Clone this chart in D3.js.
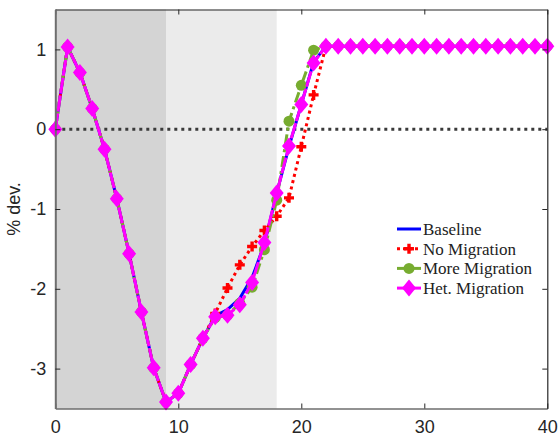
<!DOCTYPE html>
<html>
<head>
<meta charset="utf-8">
<script src="https://cdn.jsdelivr.net/npm/d3@7"></script>
<style>
  body { margin: 0; background: #fff; }
  svg text { font-family: "Liberation Sans", Arial, sans-serif; }
</style>
</head>
<body>
<div id="chart"></div>
<script>
// Data
const periods = [0, 1, 2, 3, 4, 5, 6, 7, 8, 9, 10, 11, 12, 13, 14, 15, 16, 17, 18, 19, 20,
  21, 22, 23, 24, 25, 26, 27, 28, 29, 30, 31, 32, 33, 34, 35, 36, 37, 38, 39, 40];

const baseline = [0, 1.03, 0.71, 0.26, -0.25, -0.87, -1.56, -2.29, -2.99, -3.42, -3.31, -2.95, -2.62,
  -2.34, -2.26, -2.12, -1.86, -1.44, -0.80, -0.22, 0.31, 0.84,
  1.04, 1.04, 1.04, 1.04, 1.04, 1.04, 1.04, 1.04, 1.04, 1.04, 1.04, 1.04, 1.04, 1.04, 1.04, 1.04, 1.04, 1.04, 1.04];
const noMigration = [0, 1.03, 0.71, 0.26, -0.25, -0.87, -1.56, -2.29, -2.99, -3.42, -3.31, -2.95, -2.62,
  -2.31, -1.99, -1.70, -1.47, -1.27, -1.09, -0.86, -0.22, 0.43,
  1.04, 1.04, 1.04, 1.04, 1.04, 1.04, 1.04, 1.04, 1.04, 1.04, 1.04, 1.04, 1.04, 1.04, 1.04, 1.04, 1.04, 1.04, 1.04];
const moreMigration = [0, 1.03, 0.71, 0.26, -0.25, -0.87, -1.56, -2.29, -2.99, -3.42, -3.31, -2.95, -2.62,
  -2.36, -2.33, -2.18, -1.98, -1.51, -0.89, 0.10, 0.55, 0.99,
  1.04, 1.04, 1.04, 1.04, 1.04, 1.04, 1.04, 1.04, 1.04, 1.04, 1.04, 1.04, 1.04, 1.04, 1.04, 1.04, 1.04, 1.04, 1.04];
const hetMigration = [0, 1.03, 0.71, 0.26, -0.25, -0.87, -1.56, -2.29, -2.99, -3.42, -3.31, -2.95, -2.62,
  -2.35, -2.33, -2.20, -1.92, -1.42, -0.80, -0.21, 0.31, 0.83,
  1.04, 1.04, 1.04, 1.04, 1.04, 1.04, 1.04, 1.04, 1.04, 1.04, 1.04, 1.04, 1.04, 1.04, 1.04, 1.04, 1.04, 1.04, 1.04];

const seriesNames = ["Baseline", "No Migration", "More Migration", "Het. Migration"];
// shaded phases [start, end]
const phases = [[0, 9], [9, 18]];
const xTicks = [0, 10, 20, 30, 40];
const yTicks = [-3, -2, -1, 0, 1];

// Dimensions
const width = 560, height = 443;
const margin = { top: 9.5, right: 12.7, bottom: 34.5, left: 55.3 };
const ctrWidth = width - margin.left - margin.right;
const ctrHeight = height - margin.top - margin.bottom;

const svg = d3.select("#chart").append("svg")
  .attr("width", width).attr("height", height);

const ctr = svg.append("g")
  .attr("transform", `translate(${margin.left},${margin.top})`);

// Scales
const xScale = d3.scaleLinear().domain([0, 40]).range([0, ctrWidth]);
const yScale = d3.scaleLinear().domain([-3.5, 1.5]).range([ctrHeight, 0]);

// Shaded regions
const phaseColors = ["#d4d4d4", "#ebebeb"];
ctr.selectAll("rect.phase").data(phases).join("rect")
  .attr("class", "phase")
  .attr("x", d => xScale(d[0]))
  .attr("y", 0)
  .attr("width", d => xScale(d[1]) - xScale(d[0]))
  .attr("height", ctrHeight)
  .attr("fill", (d, i) => phaseColors[i]);

// Zero line
ctr.append("line")
  .attr("x1", xScale(0)).attr("x2", xScale(40))
  .attr("y1", yScale(0)).attr("y2", yScale(0))
  .attr("stroke", "#3a3a3a")
  .attr("stroke-width", 3)
  .attr("stroke-dasharray", "3,4");

// Series styles
const styles = [
  { values: baseline, color: "#0000ff", dash: null, marker: "none" },
  { values: noMigration, color: "#ff0000", dash: "3,3.5", marker: "plus" },
  { values: moreMigration, color: "#77ac30", dash: "11,4,3,4", marker: "circle" },
  { values: hetMigration, color: "#ff00ff", dash: "16,2", marker: "diamond" },
];

const line = d3.line()
  .x((d, i) => xScale(periods[i]))
  .y(d => yScale(d));

function drawMarker(g, type, color) {
  if (type === "plus") {
    g.append("path")
      .attr("d", "M-5,0H5M0,-5V5")
      .attr("stroke", color).attr("stroke-width", 3.4).attr("fill", "none");
  } else if (type === "circle") {
    g.append("circle").attr("r", 5.5).attr("fill", color);
  } else if (type === "diamond") {
    g.append("path")
      .attr("d", "M0,-8.5L7,0L0,8.5L-7,0Z")
      .attr("fill", color);
  }
}

styles.forEach(s => {
  const g = ctr.append("g");
  g.append("path")
    .attr("d", line(s.values))
    .attr("fill", "none")
    .attr("stroke", s.color)
    .attr("stroke-width", 3)
    .attr("stroke-dasharray", s.dash);
  if (s.marker !== "none") {
    g.selectAll("g.mk").data(s.values).join("g")
      .attr("class", "mk")
      .attr("transform", (d, i) => `translate(${xScale(periods[i])},${yScale(d)})`)
      .each(function () { drawMarker(d3.select(this), s.marker, s.color); });
  }
});

// Axes (box with inward ticks)
const axisColor = "#262626";
const xAxis = ctr.append("g")
  .attr("transform", `translate(0,${ctrHeight})`)
  .call(d3.axisBottom(xScale).tickValues(xTicks).tickSizeInner(-5).tickSizeOuter(0).tickPadding(12));
const xAxisTop = ctr.append("g")
  .call(d3.axisTop(xScale).tickValues(xTicks).tickSizeInner(-5).tickSizeOuter(0).tickFormat(""));
const yAxis = ctr.append("g")
  .call(d3.axisLeft(yScale).tickValues(yTicks).tickSizeInner(-5).tickSizeOuter(0).tickPadding(9)
    .tickFormat(d => d < 0 ? "-" + Math.abs(d) : d));
const yAxisRight = ctr.append("g")
  .attr("transform", `translate(${ctrWidth},0)`)
  .call(d3.axisRight(yScale).tickValues(yTicks).tickSizeInner(-5).tickSizeOuter(0).tickFormat(""));

[xAxis, xAxisTop, yAxis, yAxisRight].forEach(a => {
  a.select(".domain").attr("stroke", axisColor).attr("stroke-width", 1.2);
  a.selectAll(".tick line").attr("stroke", axisColor).attr("stroke-width", 1);
  a.selectAll(".tick text")
    .attr("fill", axisColor)
    .style("font-family", "'Liberation Sans', Arial, sans-serif")
    .style("font-size", "18px");
});
yAxis.select(".domain").attr("stroke", "#6e6e6e").attr("stroke-width", 2);

// y label
svg.append("text")
  .attr("transform", `translate(20,${margin.top + ctrHeight / 2}) rotate(-90)`)
  .attr("text-anchor", "middle")
  .attr("fill", axisColor)
  .style("font-size", "18px")
  .text("% dev.");

// Legend
const legend = svg.append("g").attr("transform", "translate(397,229)");
const rows = legend.selectAll("g").data(styles).join("g")
  .attr("transform", (d, i) => `translate(0,${i * 19.7})`);
rows.append("line")
  .attr("x1", 0).attr("x2", 24).attr("y1", 0).attr("y2", 0)
  .attr("stroke", d => d.color)
  .attr("stroke-width", 3)
  .attr("stroke-dasharray", d => d.marker === "plus" ? "3,3" : null);
rows.each(function (d) {
  const mg = d3.select(this).append("g").attr("transform", "translate(12,0)");
  drawMarker(mg, d.marker, d.color);
});
rows.append("text")
  .attr("x", 26)
  .attr("dy", "0.35em")
  .attr("fill", "#222")
  .style("font-family", "'Liberation Serif', 'Times New Roman', serif")
  .style("font-size", "17px")
  .text((d, i) => seriesNames[i]);
</script>
</body>
</html>
